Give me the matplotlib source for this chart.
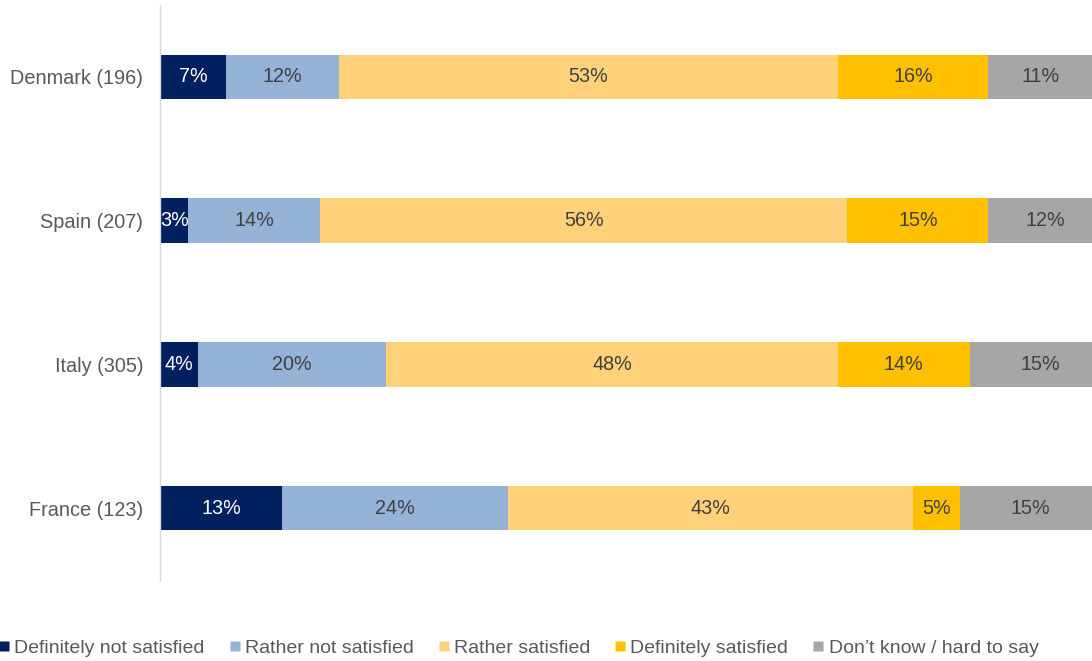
import numpy as np
import matplotlib.pyplot as plt
from matplotlib.lines import Line2D

plt.rcParams['font.family'] = ['Liberation Sans', 'DejaVu Sans']

countries = ['France (123)', 'Italy (305)', 'Spain (207)', 'Denmark (196)']
answers = ['Definitely not satisfied', 'Rather not satisfied', 'Rather satisfied',
           'Definitely satisfied', "Don\u2019t know / hard to say"]
def_not = [13, 4, 3, 7]
rather_not = [24, 20, 14, 12]
rather_yes = [43, 48, 56, 53]
def_yes = [5, 14, 15, 16]
dont_know = [15, 15, 12, 11]
colors = ['#002060', '#95B3D7', '#FFD17A', '#FFC000', '#A6A6A6']
label_colors = ['white', '#404040', '#404040', '#404040', '#404040']

series = [def_not, rather_not, rather_yes, def_yes, dont_know]

fig = plt.figure(figsize=(10.92, 6.61), dpi=100)
ax = fig.add_axes([160 / 1092, 1 - 580 / 661, 1 - 160 / 1092, 575 / 661])

# stacked bars, one segment per answer
y = np.arange(len(countries))
left = np.zeros(len(countries))
for vals, col, tcol in zip(series, colors, label_colors):
    vals = np.array(vals, dtype=float)
    ax.barh(y, vals, left=left, height=0.31, color=col, edgecolor='none')
    for yi, (l, v) in enumerate(zip(left, vals)):
        ax.text(l + v / 2, yi, f'{int(v)}%', ha='center', va='center',
                color=tcol, fontsize=14.2, clip_on=True)
    left += vals

ax.set_xlim(0, 99)
ax.set_ylim(-0.5, 3.5)
ax.set_yticks(y)
ax.set_yticklabels(countries, fontsize=14.3, color='#595959')
ax.tick_params(axis='y', length=0, pad=12)
ax.set_xticks([])
for s in ['top', 'right', 'bottom']:
    ax.spines[s].set_visible(False)
ax.spines['left'].set_color('#D9D9D9')
ax.spines['left'].set_linewidth(1)

handles = [Line2D([], [], marker='s', linestyle='none', markersize=7,
                  markerfacecolor=c, markeredgecolor='none') for c in colors]
fig.legend(handles, answers, loc='center', bbox_to_anchor=(0.475, 1 - 648 / 661),
           ncol=5, frameon=False, fontsize=14, labelcolor='#595959',
           handlelength=0.52, handletextpad=0.26, columnspacing=1.29,
           borderpad=0, borderaxespad=0)

fig.savefig('out.png', dpi=100)
